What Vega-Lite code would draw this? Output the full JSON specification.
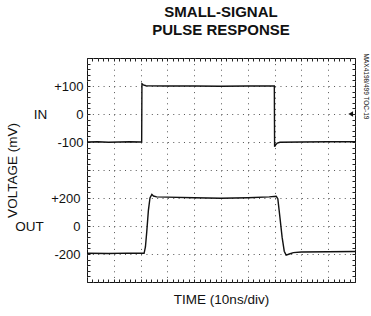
{
  "$schema": "https://vega.github.io/schema/vega-lite/v6.json",
  "autosize": {"type": "none"},
  "width": 268,
  "height": 224,
  "padding": {"left": 87, "top": 58, "right": 16, "bottom": 34},
  "background": "white",
  "title": {
    "text": ["SMALL-SIGNAL", "PULSE RESPONSE"],
    "font": "Liberation Sans",
    "fontSize": 15,
    "fontWeight": "bold",
    "lineHeight": 18,
    "anchor": "middle",
    "offset": 15,
    "color": "#111"
  },
  "config": {
    "font": "Liberation Sans",
    "view": {"stroke": "#111", "strokeWidth": 1},
    "axis": {
      "labelFont": "Liberation Sans",
      "titleFont": "Liberation Sans",
      "labelFontSize": 13,
      "titleFontSize": 13.5,
      "titleFontWeight": "normal",
      "labelColor": "#111",
      "titleColor": "#111",
      "tickColor": "#222",
      "domain": false
    }
  },
  "datasets": {
    "inTrace": [
      {"t": 0, "mv": -100}, {"t": 4, "mv": -99}, {"t": 8, "mv": -101}, {"t": 12, "mv": -100},
      {"t": 16, "mv": -99}, {"t": 20.2, "mv": -100}, {"t": 20.4, "mv": -100}, {"t": 20.5, "mv": 108},
      {"t": 21, "mv": 104}, {"t": 22, "mv": 101}, {"t": 30, "mv": 100}, {"t": 40, "mv": 100},
      {"t": 50, "mv": 99}, {"t": 60, "mv": 100}, {"t": 69.7, "mv": 100}, {"t": 69.9, "mv": 100},
      {"t": 70.0, "mv": -117}, {"t": 70.4, "mv": -110}, {"t": 71, "mv": -104}, {"t": 72, "mv": -101},
      {"t": 80, "mv": -100}, {"t": 90, "mv": -99}, {"t": 100, "mv": -99}
    ],
    "outTrace": [
      {"t": 0, "mv": -195}, {"t": 8, "mv": -196}, {"t": 15, "mv": -194}, {"t": 21.3, "mv": -195},
      {"t": 21.8, "mv": -150}, {"t": 22.3, "mv": -40}, {"t": 22.9, "mv": 110}, {"t": 23.5, "mv": 200},
      {"t": 24.2, "mv": 226}, {"t": 24.8, "mv": 214}, {"t": 26, "mv": 208}, {"t": 30, "mv": 206},
      {"t": 40, "mv": 202}, {"t": 50, "mv": 198}, {"t": 60, "mv": 202}, {"t": 68, "mv": 208},
      {"t": 70.6, "mv": 212}, {"t": 71.2, "mv": 195}, {"t": 72.0, "mv": 60}, {"t": 72.8, "mv": -80},
      {"t": 73.6, "mv": -180}, {"t": 74.3, "mv": -208}, {"t": 75.5, "mv": -200}, {"t": 77, "mv": -190},
      {"t": 80, "mv": -186}, {"t": 90, "mv": -184}, {"t": 100, "mv": -182}
    ],
    "marker": [{"t": 98.4, "mv": 0}]
  },
  "layer": [
    {
      "data": {"name": "inTrace"},
      "mark": {"type": "line", "color": "#111", "strokeWidth": 1.4, "clip": true},
      "encoding": {
        "x": {
          "field": "t", "type": "quantitative",
          "scale": {"domain": [0, 100], "nice": false, "zero": false},
          "axis": {
            "orient": "bottom",
            "values": [0,2,4,6,8,10,12,14,16,18,20,22,24,26,28,30,32,34,36,38,40,42,44,46,48,50,52,54,56,58,60,62,64,66,68,70,72,74,76,78,80,82,84,86,88,90,92,94,96,98,100],
            "labels": false,
            "tickSize": -3,
            "grid": true,
            "gridColor": "#555",
            "gridDash": [1, 4.6],
            "gridOpacity": {"condition": {"test": "datum.value % 10 == 0", "value": 1}, "value": 0},
            "title": "TIME (10ns/div)",
            "titleY": 17,
            "titleBaseline": "middle"
          }
        },
        "y": {
          "field": "mv", "type": "quantitative",
          "scale": {"domain": [-600, 200], "nice": false, "zero": false},
          "axis": {
            "orient": "left",
            "values": [-600,-580,-560,-540,-520,-500,-480,-460,-440,-420,-400,-380,-360,-340,-320,-300,-280,-260,-240,-220,-200,-180,-160,-140,-120,-100,-80,-60,-40,-20,0,20,40,60,80,100,120,140,160,180,200],
            "labelExpr": "datum.value == 100 ? '+100' : datum.value == 0 ? '0' : datum.value == -100 ? '-100' : ''",
            "tickSize": -3,
            "labelPadding": 7,
            "grid": true,
            "gridColor": "#555",
            "gridDash": [1, 4.36],
            "gridOpacity": {"condition": {"test": "datum.value % 100 == 0", "value": 1}, "value": 0},
            "title": "IN",
            "titleAngle": 0,
            "titleX": -47,
            "titleY": 56,
            "titleAlign": "center",
            "titleBaseline": "middle"
          }
        }
      }
    },
    {
      "data": {"name": "outTrace"},
      "mark": {"type": "line", "color": "#111", "strokeWidth": 1.4, "clip": true},
      "encoding": {
        "x": {
          "field": "t", "type": "quantitative",
          "scale": {"domain": [0, 100], "nice": false, "zero": false},
          "axis": {
            "orient": "top",
            "values": [0,2,4,6,8,10,12,14,16,18,20,22,24,26,28,30,32,34,36,38,40,42,44,46,48,50,52,54,56,58,60,62,64,66,68,70,72,74,76,78,80,82,84,86,88,90,92,94,96,98,100],
            "labels": false,
            "tickSize": -3,
            "grid": false,
            "title": "VOLTAGE (mV)",
            "titleAngle": -90,
            "titleX": -75,
            "titleY": 112,
            "titleAlign": "center",
            "titleBaseline": "middle"
          }
        },
        "y": {
          "field": "mv", "type": "quantitative",
          "scale": {"domain": [-400, 1200], "nice": false, "zero": false},
          "axis": {
            "orient": "left",
            "values": [-200, 0, 200],
            "labelExpr": "datum.value == 200 ? '+200' : datum.value == 0 ? '0' : '-200'",
            "ticks": false,
            "labelPadding": 7,
            "grid": false,
            "title": "OUT",
            "titleAngle": 0,
            "titleX": -58,
            "titleY": 168,
            "titleAlign": "center",
            "titleBaseline": "middle"
          }
        }
      }
    },
    {
      "data": {"name": "marker"},
      "mark": {"type": "point", "shape": "triangle-left", "filled": true, "color": "#111", "size": 30, "opacity": 1},
      "encoding": {
        "x": {
          "field": "t", "type": "quantitative",
          "scale": {"domain": [0, 100], "nice": false, "zero": false},
          "axis": null
        },
        "y": {
          "field": "mv", "type": "quantitative",
          "scale": {"domain": [-600, 200], "nice": false, "zero": false},
          "axis": {
            "orient": "right",
            "values": [-600,-580,-560,-540,-520,-500,-480,-460,-440,-420,-400,-380,-360,-340,-320,-300,-280,-260,-240,-220,-200,-180,-160,-140,-120,-100,-80,-60,-40,-20,0,20,40,60,80,100,120,140,160,180,200],
            "labels": false,
            "tickSize": -3,
            "grid": false,
            "title": "MAX4198/499 TOC-19",
            "titleFontSize": 6.5,
            "titleAngle": 90,
            "titleX": 10,
            "titleY": 28,
            "titleAlign": "center",
            "titleBaseline": "middle"
          }
        }
      }
    }
  ],
  "resolve": {
    "scale": {"y": "independent"},
    "axis": {"x": "independent", "y": "independent"}
  }
}
